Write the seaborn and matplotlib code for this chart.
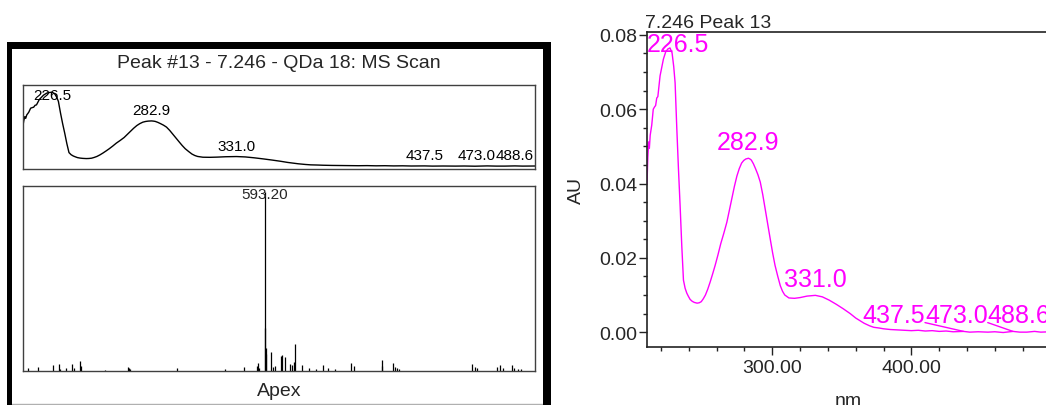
import numpy as np
import matplotlib
matplotlib.use("Agg")
import matplotlib.pyplot as plt
import seaborn as sns
from matplotlib.patches import Rectangle
from matplotlib.lines import Line2D
from matplotlib.ticker import MultipleLocator, FixedLocator, FormatStrFormatter

# ---------------- data ----------------
wavelength_nm = [210.0, 210.6, 211.2, 211.7, 212.3, 213.4, 214.5, 215.4, 216.2, 217.0,
                 217.8, 219.4, 221.8, 223.5, 225.0, 226.5, 228.0, 229.2, 230.2, 231.4,
                 232.6, 233.8, 235.0, 236.2, 237.4, 238.6, 239.8, 241.0, 242.5, 244.0,
                 246.0, 247.5, 249.0, 250.5, 252.0, 253.7, 255.4, 257.2, 259.0, 261.0,
                 263.0, 265.2, 267.4, 269.2, 271.0, 272.8, 274.6, 276.3, 278.0, 279.5,
                 281.0, 282.9, 284.0, 285.0, 286.5, 288.0, 289.7, 291.4, 293.2, 295.0,
                 296.8, 298.6, 300.3, 302.0, 304.0, 305.8, 307.4, 309.0, 312.0, 316.0,
                 320.0, 325.0, 331.0, 336.0, 341.0, 346.0, 351.0, 356.0, 360.0, 363.0,
                 366.0, 370.0, 373.0, 377.0, 380.0, 385.0, 390.0, 395.0, 400.0, 405.0,
                 410.0, 415.0, 420.0, 425.0, 430.0, 437.5, 442.0, 448.0, 455.0, 460.0,
                 466.0, 473.0, 478.0, 483.0, 488.6, 493.0, 500.0]
absorbance_au = [0.0400, 0.0470, 0.0512, 0.0495, 0.0530, 0.0557, 0.0600, 0.0606, 0.0610, 0.0630,
                 0.0634, 0.0690, 0.0735, 0.0755, 0.0762, 0.0765, 0.0752, 0.0715, 0.0671, 0.0550,
                 0.0440, 0.0340, 0.0232, 0.0140, 0.0118, 0.0105, 0.0096, 0.0088, 0.0083, 0.0080,
                 0.0078, 0.0079, 0.0082, 0.0090, 0.0100, 0.0116, 0.0135, 0.0157, 0.0180, 0.0208,
                 0.0238, 0.0266, 0.0296, 0.0328, 0.0360, 0.0392, 0.0420, 0.0440, 0.0455, 0.0462,
                 0.0466, 0.0468, 0.0466, 0.0463, 0.0453, 0.0440, 0.0424, 0.0404, 0.0370, 0.0330,
                 0.0290, 0.0250, 0.0213, 0.0180, 0.0150, 0.0125, 0.0110, 0.0100, 0.0092, 0.0091,
                 0.0093, 0.0097, 0.0099, 0.0095, 0.0086, 0.0075, 0.0063, 0.0050, 0.0038, 0.0031,
                 0.0024, 0.0017, 0.0013, 0.0011, 0.0009, 0.0007, 0.0006, 0.0005, 0.0004, 0.0005,
                 0.0003, 0.0004, 0.0002, 0.0003, 0.0001, 0.0002, 0.0000, 0.0001, 0.0000, 0.0001,
                 -0.0001, 0.0002, 0.0000, 0.0000, 0.0002, 0.0000, 0.0001]
peak_nm = [226.5, 282.9, 331.0, 437.5, 473.0, 488.6]

ms_mz = [62.1, 83.8, 118.3, 131.2, 134.3, 148.0, 160.9, 164.1, 179.3, 180.9,
         234.8, 285.4, 288.6, 291.8, 397.0, 504.6, 546.4, 576.9, 578.5, 580.9,
         593.2, 594.2, 595.2, 597.0, 608.2, 612.3, 615.5, 629.1, 632.3, 639.6,
         650.0, 654.8, 658.0, 661.3, 676.5, 693.4, 709.5, 723.1, 735.2, 751.2,
         786.6, 794.6, 855.7, 857.3, 881.4, 885.4, 891.0, 895.8, 1059.6, 1064.4,
         1070.9, 1114.2, 1120.7, 1128.7, 1148.0, 1152.0, 1162.5, 1168.9]
ms_rel_intensity = [1.9, 2.2, 3.2, 3.7, 1.3, 1.9, 4.1, 1.9, 5.4, 2.8,
                    0.6, 2.2, 1.9, 0.9, 1.9, 1.3, 2.4, 2.8, 4.7, 1.9,
                    100.0, 24.3, 13.1, 9.7, 10.7, 2.4, 2.8, 8.4, 8.8, 8.0,
                    3.7, 3.4, 5.0, 15.1, 3.6, 1.9, 1.3, 3.2, 1.9, 1.3,
                    4.7, 2.8, 6.0, 2.8, 4.7, 2.2, 1.9, 1.3, 4.1, 2.2,
                    1.9, 2.2, 3.4, 1.9, 3.4, 1.9, 0.9, 0.9]
ms_base_peak = 593.20

x_major_ticks = [300, 400]

left_title = "Peak #13 - 7.246 - QDa 18: MS Scan"
left_footer = "Apex"
right_title = "7.246 Peak 13"
x_label = "nm"
y_label = "AU"

# ---------------- style ----------------
sns.set_style("white")
plt.rcParams['font.family'] = ['Liberation Sans', 'DejaVu Sans']

W, H = 1046, 406
fig = plt.figure(figsize=(W / 100, H / 100), dpi=100)


def axes_px(l, t, r, b):
    return fig.add_axes([l / W, 1 - b / H, (r - l) / W, (b - t) / H])


MAGENTA = "#ff00ff"

# ---------------- left panel frame ----------------
for (x0, y0, x1, y1) in [(7, 43, 551, 49.5), (7, 43, 12, 406), (543, 43, 551, 406)]:
    fig.add_artist(Rectangle((x0 / W, 1 - y1 / H), (x1 - x0) / W, (y1 - y0) / H,
                             transform=fig.transFigure, facecolor="black",
                             edgecolor="none", zorder=5))
fig.add_artist(Line2D([12 / W, 543 / W], [1 - 405 / H, 1 - 405 / H],
                      transform=fig.transFigure, color="#b0b0b0", lw=1))
fig.text(279 / W, 1 - 64 / H, left_title, ha="center", va="center", fontsize=14)
fig.text(279 / W, 1 - 392 / H, left_footer, ha="center", va="center", fontsize=14)

# ---------------- axes ----------------
ax_uv = axes_px(22.7, 86, 535, 170)
ax_ms = axes_px(22.7, 187, 535, 372)
ax_r = axes_px(647, 33.3, 1050.5, 348)

# left top: UV spectrum (black)
sns.lineplot(x=wavelength_nm, y=absorbance_au, ax=ax_uv, color="black", lw=1,
             estimator=None, sort=False)
ax_uv.set_xlim(210, 500)
ax_uv.set_ylim(-0.003, 0.084)
ax_uv.set_xticks([])
ax_uv.set_yticks([])
ax_uv.set_xlabel("")
ax_uv.set_ylabel("")
for s in ax_uv.spines.values():
    s.set_color("#404040")
    s.set_linewidth(1)

# left bottom: MS stick spectrum
ax_ms.vlines(ms_mz, 0, ms_rel_intensity, color="black", lw=0.9)
ax_ms.set_xlim(50, 1200)
ax_ms.set_ylim(0, 103.5)
ax_ms.set_xticks([])
ax_ms.set_yticks([])
for s in ax_ms.spines.values():
    s.set_color("#404040")
    s.set_linewidth(1)
bp = ms_mz.index(ms_base_peak)
ax_ms.annotate(f"{ms_base_peak:.2f}", xy=(ms_mz[bp], ms_rel_intensity[bp]),
               xytext=(0, -1.5), textcoords="offset points",
               ha="center", va="center", fontsize=11)

# right: UV spectrum (magenta)
sns.lineplot(x=wavelength_nm, y=absorbance_au, ax=ax_r, color=MAGENTA, lw=1.0,
             estimator=None, sort=False)
ax_r.set_xlim(210, 500)
ax_r.set_ylim(-0.004, 0.0807)
ax_r.xaxis.set_major_locator(FixedLocator(x_major_ticks))
ax_r.xaxis.set_major_formatter(FormatStrFormatter("%.2f"))
ax_r.xaxis.set_minor_locator(MultipleLocator(20))
ax_r.yaxis.set_major_locator(MultipleLocator(0.02))
ax_r.yaxis.set_major_formatter(FormatStrFormatter("%.2f"))
ax_r.yaxis.set_minor_locator(MultipleLocator(0.005))
ax_r.tick_params(which="both", bottom=True, left=True, direction="out",
                 color="#222222", width=1)
ax_r.tick_params(which="major", length=6, labelsize=14)
ax_r.tick_params(which="minor", length=3)
ax_r.tick_params(axis="y", which="major", pad=1)
ax_r.tick_params(axis="x", which="major", pad=3)
ax_r.spines["right"].set_visible(False)
for k in ("left", "bottom", "top"):
    ax_r.spines[k].set_color("#222222")
    ax_r.spines[k].set_linewidth(1.2)
ax_r.set_xlabel(x_label, fontsize=14)
ax_r.xaxis.set_label_coords(0.5, -45 / 314.7)
ax_r.set_ylabel(y_label, fontsize=14)
ax_r.yaxis.set_label_coords(-71 / 403.5, 0.5)
ax_r.yaxis.label.set_verticalalignment("center")
ax_r.text(-0.005, 1 + 5.3 / 314.7, right_title, transform=ax_r.transAxes,
          ha="left", va="baseline", fontsize=14)


# ---------------- peak labels ----------------
def place_peak_labels(ax, xs, ys, fontsize, color, gap_px, top_margin_px, leaders):
    fig.canvas.draw()
    r = fig.canvas.get_renderer()
    axbb = ax.get_window_extent(r)
    pts = ax.transData.transform(np.column_stack([xs, ys]))
    labels = [f"{x:.1f}" for x in xs]
    sizes = []
    for s in labels:
        t = ax.text(0, 0, s, fontsize=fontsize)
        bb = t.get_window_extent(r)
        sizes.append((bb.width, bb.height))
        t.remove()
    lefts = [p[0] - w / 2 for p, (w, h) in zip(pts, sizes)]
    lefts = [min(max(l, axbb.x0), axbb.x1 - w) for l, (w, h) in zip(lefts, sizes)]
    for i in range(len(lefts) - 2, -1, -1):
        if lefts[i] + sizes[i][0] > lefts[i + 1]:
            lefts[i] = lefts[i + 1] - sizes[i][0]
    inv = ax.transData.inverted()
    for i, s in enumerate(labels):
        w, h = sizes[i]
        b = pts[i][1] + gap_px
        if b + h > axbb.y1 - top_margin_px:
            b = axbb.y1 - top_margin_px - h
        tx, ty = inv.transform((lefts[i], b))
        ax.text(tx, ty, s, ha="left", va="bottom", fontsize=fontsize, color=color,
                clip_on=False)
        if leaders and not (lefts[i] <= pts[i][0] <= lefts[i] + w):
            sx = lefts[i] + w if pts[i][0] > lefts[i] + w else lefts[i]
            p0 = inv.transform((sx, b + 0.2 * h))
            ax.plot([p0[0], xs[i]], [p0[1], ys[i]], color=color, lw=1)


peak_vals = [absorbance_au[wavelength_nm.index(p)] for p in peak_nm]
place_peak_labels(ax_uv, peak_nm, peak_vals, 11, "black", 4, 3, False)
place_peak_labels(ax_r, peak_nm, peak_vals, 18, MAGENTA, 4, 0, True)

fig.savefig("out.png", dpi=100)
